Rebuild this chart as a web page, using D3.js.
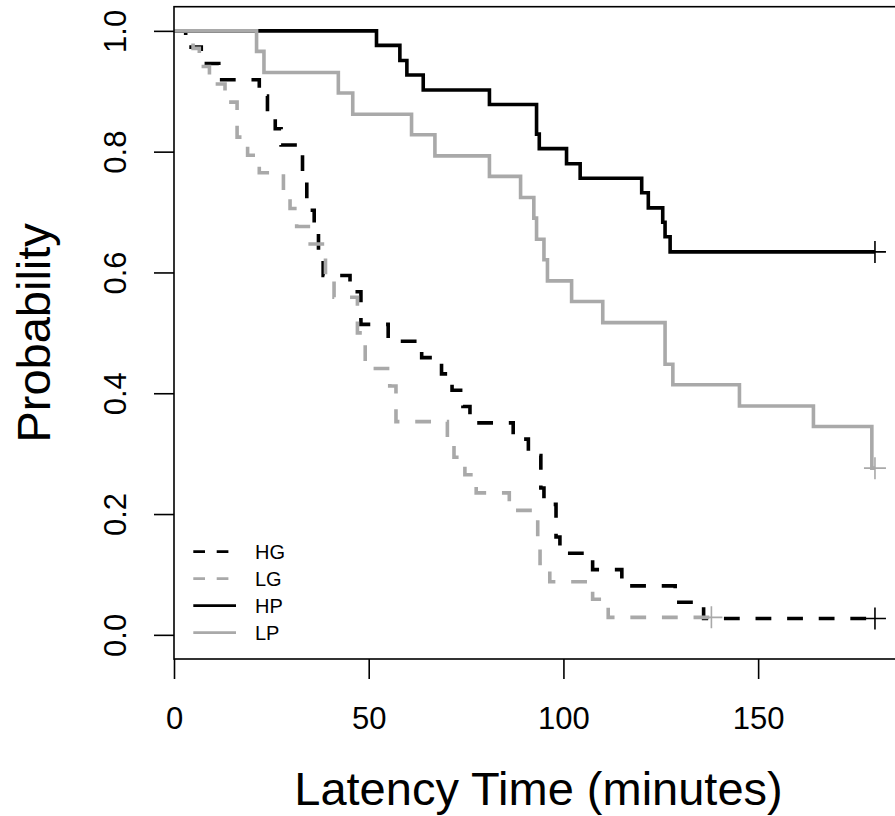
<!DOCTYPE html>
<html>
<head>
<meta charset="utf-8">
<script src="https://cdn.jsdelivr.net/npm/d3@7"></script>
<style>
  body { margin: 0; background: #fff; }
  svg { display: block; font-family: 'Liberation Sans', Arial, sans-serif; }
</style>
</head>
<body>
<div id="chart"></div>
<script>
// Kaplan-Meier steps (time in minutes, survival after the step)
let hgTime = [0, 3, 7, 11.5, 21.9, 24, 26, 27.5, 33, 34.1, 36, 37.1, 38.3, 45.2, 48, 55, 63.6, 68.7, 71.4, 74.2, 76, 87.1, 91, 94.2, 95, 98.1, 99.1, 107.5, 115, 128.7, 136, 180]
let hgSurv = [1, 0.973, 0.946, 0.919, 0.892, 0.865, 0.838, 0.811, 0.757, 0.703, 0.676, 0.622, 0.595, 0.568, 0.514, 0.486, 0.459, 0.432, 0.405, 0.378, 0.351, 0.324, 0.297, 0.243, 0.216, 0.162, 0.135, 0.108, 0.081, 0.054, 0.027, 0.027]

let lgTime = [0, 4.9, 6.5, 9.1, 13.1, 16.2, 18.9, 21.9, 28.1, 29.8, 31.5, 34.5, 38.9, 41.1, 47.1, 49.1, 55.4, 57, 70.2, 71.9, 74.7, 77.6, 86.1, 93.4, 94, 96.5, 107.5, 111.5, 138]
let lgSurv = [1, 0.971, 0.941, 0.912, 0.882, 0.824, 0.794, 0.765, 0.735, 0.706, 0.676, 0.647, 0.588, 0.559, 0.5, 0.441, 0.412, 0.353, 0.324, 0.294, 0.265, 0.235, 0.206, 0.147, 0.118, 0.088, 0.059, 0.029, 0.029]

let hpTime = [0, 52, 58, 59.8, 64, 81, 93.1, 93.8, 100.8, 104.3, 120.1, 121.8, 125.5, 126.1, 127.4, 180]
let hpSurv = [1, 0.976, 0.951, 0.927, 0.902, 0.878, 0.829, 0.805, 0.78, 0.756, 0.732, 0.707, 0.683, 0.659, 0.634, 0.634]

let lpTime = [0, 21.2, 23.1, 42.2, 45.9, 61, 67, 81, 89, 92.4, 93.1, 95, 95.9, 102.1, 110.1, 126.1, 128.1, 145.2, 164.2, 179.2, 180]
let lpSurv = [1, 0.966, 0.931, 0.897, 0.862, 0.828, 0.793, 0.759, 0.724, 0.69, 0.655, 0.621, 0.586, 0.552, 0.517, 0.448, 0.414, 0.379, 0.345, 0.276, 0.276]

let groupNames = ['HG', 'LG', 'HP', 'LP']
let xTicks = [0, 50, 100, 150]
let yTicks = [0, 0.2, 0.4, 0.6, 0.8, 1]

let groups = [
  { name: 'HG', time: hgTime, surv: hgSurv, color: '#000000', dashed: true },
  { name: 'LG', time: lgTime, surv: lgSurv, color: '#a9a9a9', dashed: true },
  { name: 'HP', time: hpTime, surv: hpSurv, color: '#000000', dashed: false },
  { name: 'LP', time: lpTime, surv: lpSurv, color: '#a9a9a9', dashed: false }
]

let width = 895
let height = 816

let svg = d3
  .select('#chart')
  .append('svg')
  .attr('width', width)
  .attr('height', height)

svg.append('rect').attr('width', width).attr('height', height).attr('fill', '#fff')

// x runs past the right edge of the picture, like the original (box is cut off)
let xPositionScale = d3.scaleLinear().domain([0, 187.2]).range([174, 903])
let yPositionScale = d3.scaleLinear().domain([-0.04, 1.04]).range([659, 6.7])

let line = d3
  .line()
  .x(d => xPositionScale(d[0]))
  .y(d => yPositionScale(d[1]))
  .curve(d3.curveStepAfter)

groups.forEach(g => {
  let pts = g.time.map((t, i) => [t, g.surv[i]])
  svg
    .append('path')
    .datum(pts)
    .attr('d', line)
    .attr('fill', 'none')
    .attr('stroke', g.color)
    .attr('stroke-width', 3.6)
    .attr('stroke-linejoin', 'miter')
    .attr('stroke-dasharray', g.dashed ? '15.8 15.8' : null)

  // censor mark at the end of each curve
  let last = pts[pts.length - 1]
  let cx = xPositionScale(last[0])
  let cy = yPositionScale(last[1])
  svg
    .append('path')
    .attr('d', `M${cx - 11},${cy}H${cx + 11}M${cx},${cy - 11}V${cy + 11}`)
    .attr('stroke', g.color)
    .attr('stroke-width', 1.6)
})

// box
svg
  .append('rect')
  .attr('x', xPositionScale(0))
  .attr('y', yPositionScale(1.04))
  .attr('width', xPositionScale(187.2) - xPositionScale(0))
  .attr('height', yPositionScale(-0.04) - yPositionScale(1.04))
  .attr('fill', 'none')
  .attr('stroke', '#000')
  .attr('stroke-width', 1.6)

// axes
let xAxis = d3
  .axisBottom(xPositionScale)
  .tickValues(xTicks)
  .tickSize(20)
  .tickPadding(28)
  .tickFormat(d3.format('d'))

svg
  .append('g')
  .attr('class', 'axis x-axis')
  .attr('transform', `translate(0,${yPositionScale(-0.04)})`)
  .call(xAxis)
  .call(g => g.select('.domain').remove())
  .call(g => g.selectAll('line').attr('stroke-width', 1.6))
  .call(g => g.selectAll('text').attr('font-size', 31).attr('font-family', 'Liberation Sans, Arial, sans-serif').attr('fill', '#000'))

let yAxis = d3
  .axisLeft(yPositionScale)
  .tickValues(yTicks)
  .tickSize(20)
  .tickFormat(d3.format('.1f'))

svg
  .append('g')
  .attr('class', 'axis y-axis')
  .attr('transform', `translate(${xPositionScale(0)},0)`)
  .call(yAxis)
  .call(g => g.select('.domain').remove())
  .call(g => g.selectAll('line').attr('stroke-width', 1.6))
  .call(g =>
    g
      .selectAll('text')
      .attr('font-size', 31)
      .attr('font-family', 'Liberation Sans, Arial, sans-serif')
      .attr('fill', '#000')
      .attr('x', null)
      .attr('dy', null)
      .attr('text-anchor', 'middle')
      .attr('transform', 'translate(-48,0) rotate(-90)')
  )

// axis titles
svg
  .append('text')
  .text('Latency Time (minutes)')
  .attr('x', (xPositionScale(0) + xPositionScale(187.2)) / 2)
  .attr('y', 805)
  .attr('text-anchor', 'middle')
  .attr('font-size', 47)

svg
  .append('text')
  .text('Probability')
  .attr('transform', `translate(50,${(yPositionScale(1.04) + yPositionScale(-0.04)) / 2}) rotate(-90)`)
  .attr('text-anchor', 'middle')
  .attr('font-size', 47)

// legend
let legend = svg.append('g').attr('class', 'legend')
groups.forEach((g, i) => {
  let ly = 551.7 + i * 27
  legend
    .append('line')
    .attr('x1', 193.3)
    .attr('x2', 236)
    .attr('y1', ly)
    .attr('y2', ly)
    .attr('stroke', g.color)
    .attr('stroke-width', 2.7)
    .attr('stroke-dasharray', g.dashed ? '11.7 11.7' : null)
  legend
    .append('text')
    .text(groupNames[i])
    .attr('x', 255)
    .attr('y', ly)
    .attr('dy', '0.36em')
    .attr('font-size', 20)
})
</script>
</body>
</html>
